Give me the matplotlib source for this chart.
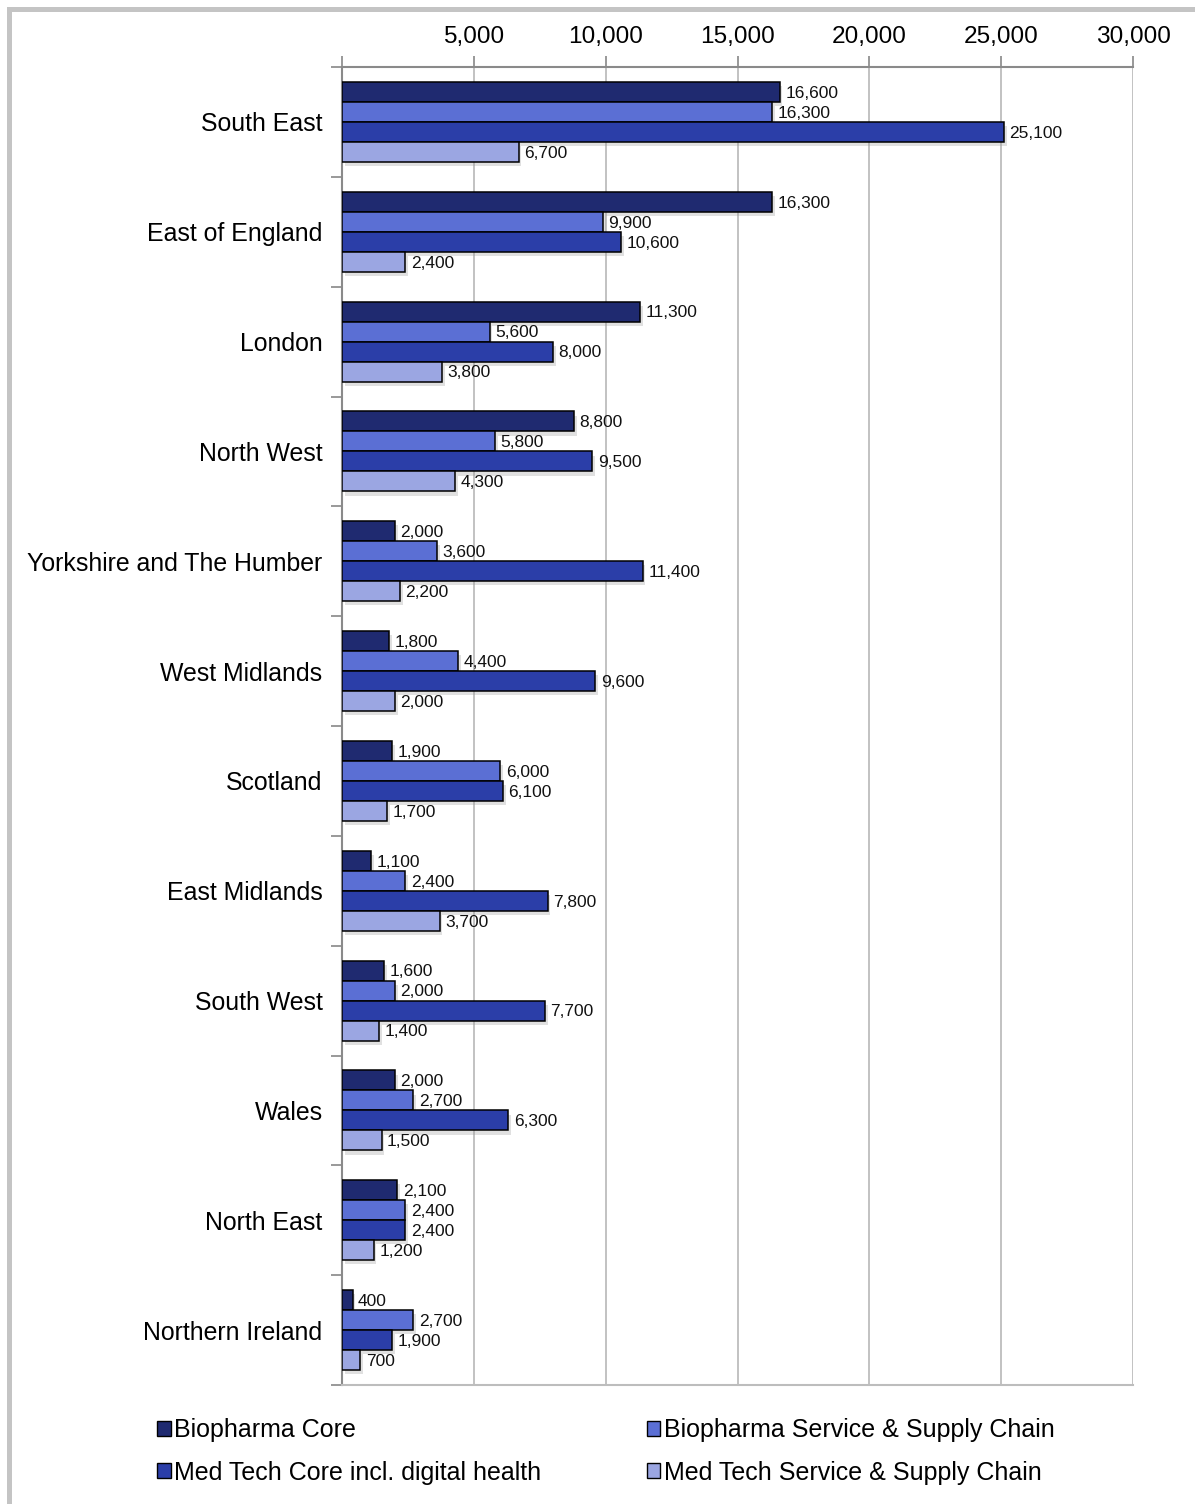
import matplotlib
matplotlib.use("Agg")
import matplotlib.pyplot as plt
import numpy as np
from matplotlib.patches import Patch
from matplotlib.lines import Line2D
import matplotlib.patheffects as pe
from matplotlib.ticker import FuncFormatter

plt.rcParams['font.family'] = ['Liberation Sans', 'DejaVu Sans']

regions = ["South East", "East of England", "London", "North West",
           "Yorkshire and The Humber", "West Midlands", "Scotland",
           "East Midlands", "South West", "Wales", "North East",
           "Northern Ireland"]
series_names = ["Biopharma Core", "Biopharma Service & Supply Chain",
                "Med Tech Core incl. digital health",
                "Med Tech Service & Supply Chain"]
biopharma_core = [16600, 16300, 11300, 8800, 2000, 1800, 1900, 1100, 1600, 2000, 2100, 400]
biopharma_service = [16300, 9900, 5600, 5800, 3600, 4400, 6000, 2400, 2000, 2700, 2400, 2700]
medtech_core = [25100, 10600, 8000, 9500, 11400, 9600, 6100, 7800, 7700, 6300, 2400, 1900]
medtech_service = [6700, 2400, 3800, 4300, 2200, 2000, 1700, 3700, 1400, 1500, 1200, 700]
x_ticks = [5000, 10000, 15000, 20000, 25000, 30000]

colors = ["#1f2a70", "#5b6fd4", "#2b3ea8", "#9ba6e2"]
series = [biopharma_core, biopharma_service, medtech_core, medtech_service]

W, H = 1195, 1504
fig = plt.figure(figsize=(W / 100, H / 100), dpi=100)
ax = fig.add_axes([342 / W, 1 - 1385 / H, (1133 - 342) / W, (1385 - 67) / H])

ypos = np.arange(len(regions))
h = 0.182
offsets = [-1.5 * h, -0.5 * h, 0.5 * h, 1.5 * h]
shadow = [pe.SimplePatchShadow(offset=(2, -3), shadow_rgbFace="#999999", alpha=0.3), pe.Normal()]

for vals, col, off, name in zip(series, colors, offsets, series_names):
    bars = ax.barh(ypos + off, vals, height=h, color=col, edgecolor="black",
                   linewidth=1.1, label=name, zorder=3)
    for b in bars:
        b.set_path_effects(shadow)
    for y, v in zip(ypos + off, vals):
        ax.annotate(f"{v:,}", (v, y), xytext=(4, -1), textcoords="offset points",
                    ha="left", va="center", fontsize=12.5, color="#111111", zorder=4)

ax.set_xlim(0, 30000)
ax.set_ylim(len(regions) - 0.5, -0.5)

# category labels at centres, tick marks at group boundaries
ax.set_yticks(ypos)
ax.set_yticklabels(regions, fontsize=17.9)
ax.tick_params(axis="y", which="major", length=0, pad=14)
ax.set_yticks(np.arange(-0.5, len(regions) + 0.5, 1.0), minor=True)
ax.tick_params(axis="y", which="minor", length=8, width=1.2, color="#888888", direction="out")

ax.xaxis.tick_top()
ax.set_xticks(x_ticks)
ax.xaxis.set_major_formatter(FuncFormatter(lambda v, p: f"{int(v):,}"))
ax.set_xticks([0], minor=True)
ax.tick_params(axis="x", which="both", length=8, width=1.2, color="#888888",
               labelsize=17.6, pad=6, direction="out")
ax.grid(axis="x", color="#bdbdbd", linewidth=1.3, zorder=0)
ax.set_axisbelow(True)

for s in ["top", "left", "bottom"]:
    ax.spines[s].set_color("#8a8a8a")
    ax.spines[s].set_linewidth(1.5)
ax.spines["bottom"].set_color("#bdbdbd")
ax.spines["right"].set_visible(False)

handles = [Patch(facecolor=c, edgecolor="black", linewidth=1.0) for c in colors]
order = [0, 2, 1, 3]
fig.legend([handles[i] for i in order], [series_names[i] for i in order],
           ncol=2, loc="upper left", bbox_to_anchor=(147 / W, 1 - 1408 / H),
           frameon=False, fontsize=18, handlelength=0.55, handleheight=0.55,
           handletextpad=0.15, columnspacing=4.2, labelspacing=0.75, borderaxespad=0)

# page frame
fig.add_artist(Line2D([9 / W, 1], [1 - 9 / H, 1 - 9 / H], color="#c4c4c4", linewidth=3.6))
fig.add_artist(Line2D([9 / W, 9 / W], [0, 1 - 9 / H], color="#c4c4c4", linewidth=3.6))

fig.savefig("out.png", dpi=100, facecolor="white")
